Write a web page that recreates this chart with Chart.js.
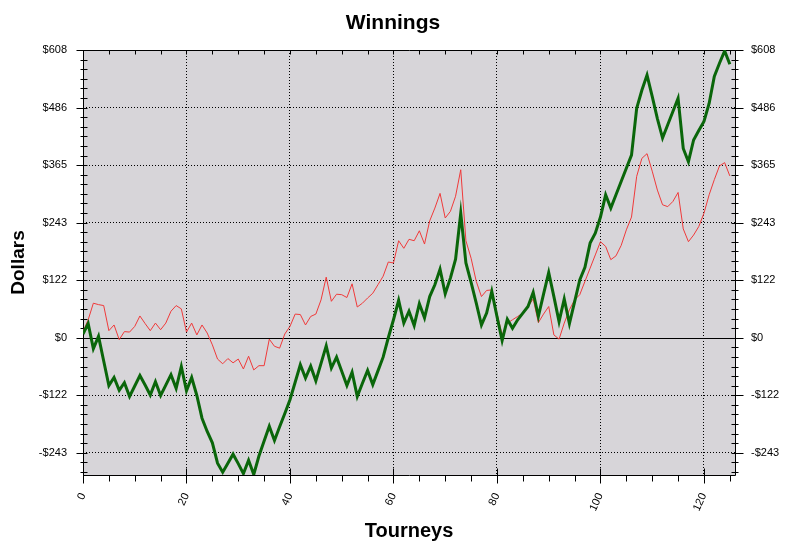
<!DOCTYPE html>
<html><head><meta charset="utf-8">
<script src="https://cdn.jsdelivr.net/npm/chart.js@4/dist/chart.umd.min.js"></script>
<style>html,body{margin:0;padding:0;background:#fff}#wrap{width:791px;height:556px;position:relative}</style>
</head><body><div id="wrap"><canvas id="c"></canvas></div>
<script>
// ---- data ----
const chartTitle = 'Winnings';
const xTitle = 'Tourneys';
const yTitle = 'Dollars';
const xTickValues = [0, 20, 40, 60, 80, 100, 120];
const yTickValues = [-243.2, -121.6, 0, 121.6, 243.2, 364.8, 486.4, 608];
const yTickLabels = ['-$243', '-$122', '$0', '$122', '$243', '$365', '$486', '$608'];

const totalWinnings = [
  8, 30, -23, 3, -49, -101, -84, -111, -95, -124,
  -102, -80, -100, -121, -93, -122, -100, -78, -107, -61,
  -112, -84, -122, -170, -198, -222, -265, -284, -265, -246,
  -266, -287, -259, -289, -250, -218, -187, -217, -188, -160,
  -131, -94, -57, -85, -60, -91, -54, -17, -64, -41,
  -71, -101, -73, -124, -96, -69, -99, -70, -41, 0,
  38, 79, 31, 56, 26, 72, 42, 87, 112, 145,
  93, 126, 166, 263, 158, 117, 73, 27, 52, 98,
  45, -6, 39, 20, 38, 52, 66, 96, 45, 92,
  138, 87, 34, 82, 30, 76, 122, 149, 200, 221,
  255, 302, 274, 302, 330, 358, 386, 485, 523, 555,
  510, 463, 422, 450, 478, 506, 400, 372, 418, 438,
  457, 495, 552, 580, 606, 578
];
const adjustedWinnings = [
  13, 38, 73, 70, 68, 15, 27, -4, 13, 12,
  24, 46, 30, 15, 31, 17, 31, 56, 68, 61,
  12, 31, 6, 27, 10, -15, -45, -55, -44, -53,
  -45, -66, -39, -68, -59, -59, -3, -18, -22, 8,
  24, 50, 49, 27, 45, 50, 80, 128, 77, 92,
  91, 85, 114, 65, 73, 84, 94, 112, 130, 160,
  158, 205, 189, 208, 205, 226, 198, 247, 274, 305,
  253, 267, 299, 355, 205, 168, 119, 87, 100, 101,
  52, 6, 31, 38, 45, 52, 66, 82, 32, 50,
  66, 6, -3, 31, 59, 80, 91, 119, 147, 175,
  203, 193, 165, 173, 195, 228, 255, 341, 379, 389,
  352, 312, 281, 277, 288, 307, 230, 203, 217, 235,
  263, 302, 334, 363, 370, 342
];

const X_MIN = 0, X_MAX = 126, Y_MIN = -290, Y_MAX = 608;
const PLOT_BG = '#d7d5d9';
const FONT = "Arial, 'Liberation Sans', sans-serif";

const yLabelFor = v => { const i = yTickValues.findIndex(t => Math.abs(t - v) < 1e-6); return i >= 0 ? yTickLabels[i] : ''; };

const framePlugin = {
  id: 'frame',
  beforeDraw(chart) {
    const { ctx, chartArea: a } = chart;
    ctx.save();
    ctx.fillStyle = '#fff';
    ctx.fillRect(0, 0, chart.width, chart.height);
    ctx.fillStyle = PLOT_BG;
    ctx.fillRect(a.left, a.top, a.right - a.left, a.bottom - a.top);
    ctx.restore();
  },
  beforeDatasetsDraw(chart) {
    const { ctx, chartArea: a, scales } = chart;
    const x = scales.x, y = scales.y;
    const L = Math.round(a.left) + 0.5, R = Math.round(a.right) + 0.5;
    const T = Math.round(a.top) + 0.5, B = Math.round(a.bottom) + 0.5;
    ctx.save();
    ctx.strokeStyle = '#000';
    ctx.lineWidth = 1;
    const seg = (x1, y1, x2, y2) => { ctx.beginPath(); ctx.moveTo(x1, y1); ctx.lineTo(x2, y2); ctx.stroke(); };
    // zero line
    const y0 = Math.round(y.getPixelForValue(0)) + 0.5;
    seg(L, y0, R, y0);
    // frame
    seg(L, T, R, T); seg(R, T, R, B); seg(L, B, R, B); seg(L, T, L, B);
    // y ticks (6 subdivisions per major step)
    const step = yTickValues[1] - yTickValues[0];
    for (let k = -30; k <= 30; k++) {
      const v = k * step / 6;
      if (v < Y_MIN - 1e-6 || v > Y_MAX + 1e-6) continue;
      const py = Math.round(y.getPixelForValue(v)) + 0.5;
      const major = k % 6 === 0;
      seg(L - (major ? 7 : 3), py, L + 4, py);
      seg(R - 4, py, R + (major ? 8 : 3), py);
    }
    // x ticks every 5
    for (let t = 0; t <= X_MAX; t += 5) {
      const px = Math.round(x.getPixelForValue(t)) + 0.5;
      const major = t % 20 === 0;
      seg(px, B - (major ? 7 : 0), px, B + (major ? 8 : 6));
      seg(px, T, px, T + 4);
    }
    ctx.restore();
  }
};

const tickFont = { family: FONT, size: 11 };

new Chart(document.getElementById('c'), {
  type: 'line',
  data: {
    datasets: [
      {
        label: 'Total',
        data: totalWinnings.map((v, i) => ({ x: i, y: v })),
        borderColor: '#0a660a',
        borderWidth: 3,
        pointRadius: 0,
        tension: 0,
        fill: false,
        order: 0
      },
      {
        label: 'Adjusted',
        data: adjustedWinnings.map((v, i) => ({ x: i, y: v })),
        borderColor: '#f03a3a',
        borderWidth: 1,
        pointRadius: 0,
        tension: 0,
        fill: false,
        order: 1
      }
    ]
  },
  options: {
    responsive: true,
    maintainAspectRatio: false,
    animation: false,
    devicePixelRatio: 1,
    layout: { padding: { top: 50, left: 0, right: 0, bottom: 0 } },
    plugins: {
      legend: { display: false },
      tooltip: { enabled: false },
      title: { display: false }
    },
    scales: {
      x: {
        type: 'linear',
        min: X_MIN, max: X_MAX,
        afterBuildTicks: s => { s.ticks = xTickValues.map(v => ({ value: v })); },
        afterFit: s => { s.height = 81; },
        grid: { color: '#000', lineWidth: 1, drawTicks: false },
        border: { display: false, dash: [1, 2] },
        ticks: { font: tickFont, color: '#000', minRotation: 65, maxRotation: 65, padding: 16, autoSkip: false },
        title: { display: true, text: xTitle, color: '#000', font: { family: FONT, size: 20, weight: 'bold' }, padding: { top: 0, bottom: 13 } }
      },
      y: {
        type: 'linear', position: 'left',
        min: Y_MIN, max: Y_MAX,
        afterBuildTicks: s => { s.ticks = yTickValues.map(v => ({ value: v })); },
        afterFit: s => { s.width = 83; },
        grid: { color: c => (c.tick && Math.abs(c.tick.value) < 1e-6) ? 'rgba(0,0,0,0)' : '#000', lineWidth: 1, drawTicks: false },
        border: { display: false, dash: [1, 2] },
        ticks: { font: tickFont, color: '#000', padding: 16, callback: v => yLabelFor(v) },
        title: { display: true, text: yTitle, color: '#000', font: { family: FONT, size: 19, weight: 'bold' }, padding: { top: 7, bottom: 0 } }
      },
      y2: {
        type: 'linear', position: 'right',
        min: Y_MIN, max: Y_MAX,
        afterBuildTicks: s => { s.ticks = yTickValues.map(v => ({ value: v })); },
        afterFit: s => { s.width = 56; },
        grid: { display: false, drawTicks: false },
        border: { display: false },
        ticks: { font: tickFont, color: '#000', padding: 16, callback: v => yLabelFor(v) }
      }
    }
  },
  plugins: [framePlugin, {
    id: 'mainTitle',
    afterDraw(chart) {
      const ctx = chart.ctx;
      ctx.save();
      ctx.fillStyle = '#000';
      ctx.font = 'bold 21px ' + FONT;
      ctx.textAlign = 'center';
      ctx.textBaseline = 'middle';
      ctx.fillText(chartTitle, 393, 23);
      ctx.restore();
    }
  }]
});
</script>
</body></html>
